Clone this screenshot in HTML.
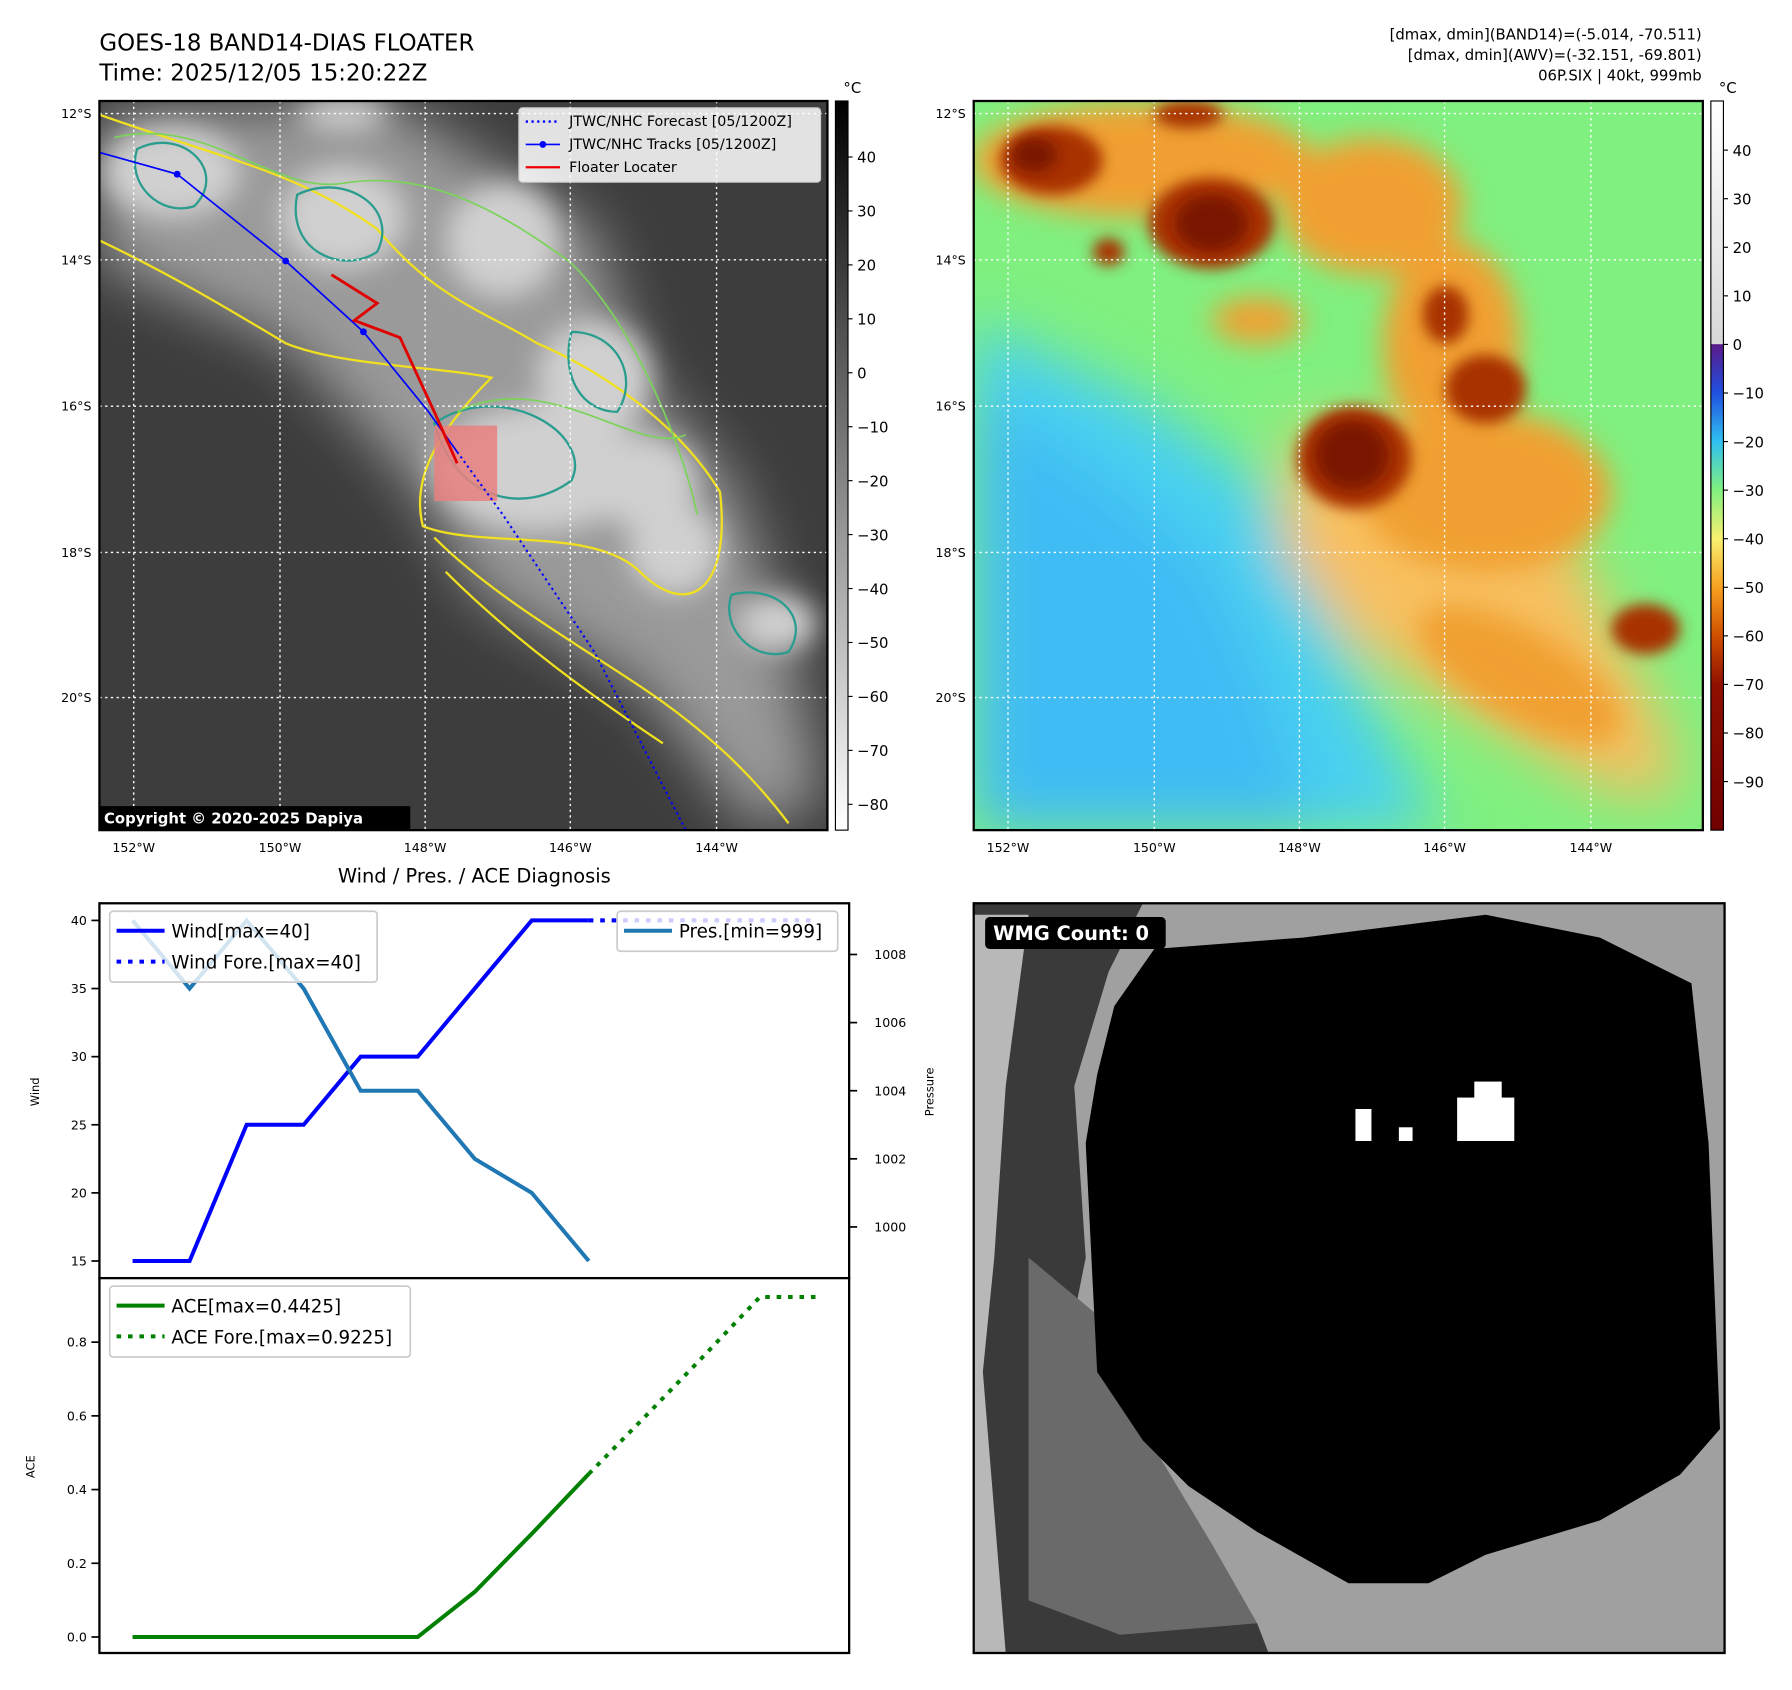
<!DOCTYPE html>
<html><head><meta charset="utf-8"><style>
html,body{margin:0;padding:0;background:#fff;}
svg{display:block;font-family:"DejaVu Sans","Liberation Sans",sans-serif;}
</style></head><body>
<svg id="fig" xmlns="http://www.w3.org/2000/svg" width="1792" height="1690" viewBox="0 0 1568 1478">
<defs>
<filter id="b6" x="-20%" y="-20%" width="140%" height="140%"><feGaussianBlur stdDeviation="6"/></filter>
<filter id="b12" x="-30%" y="-30%" width="160%" height="160%"><feGaussianBlur stdDeviation="12"/></filter>
<filter id="b25" x="-30%" y="-30%" width="160%" height="160%"><feGaussianBlur stdDeviation="25"/></filter>
<clipPath id="c1"><rect x="87" y="88" width="637" height="638"/></clipPath>
<clipPath id="c2"><rect x="852" y="88" width="638" height="638"/></clipPath>
<clipPath id="c3"><rect x="852" y="790" width="657" height="656"/></clipPath>
<linearGradient id="g1" x1="0" y1="0" x2="0" y2="1"><stop offset="0" stop-color="#000"/><stop offset="1" stop-color="#fff"/></linearGradient>
<linearGradient id="g2" x1="0" y1="0" x2="0" y2="1">
<stop offset="0" stop-color="#fff"/><stop offset="0.333" stop-color="#d8d8d8"/>
<stop offset="0.334" stop-color="#5a1a8a"/><stop offset="0.40" stop-color="#2050e0"/>
<stop offset="0.467" stop-color="#30c0f0"/><stop offset="0.533" stop-color="#80f080"/>
<stop offset="0.60" stop-color="#f8f070"/><stop offset="0.667" stop-color="#f8a020"/>
<stop offset="0.733" stop-color="#d05000"/><stop offset="0.80" stop-color="#901000"/>
<stop offset="1" stop-color="#700000"/></linearGradient>
</defs>

<text x="87" y="44" font-size="20">GOES-18 BAND14-DIAS FLOATER</text>
<text x="87" y="70" font-size="20">Time: 2025/12/05 15:20:22Z</text>
<g font-size="13" text-anchor="end">
<text x="1489" y="34">[dmax, dmin](BAND14)=(-5.014, -70.511)</text>
<text x="1489" y="52">[dmax, dmin](AWV)=(-32.151, -69.801)</text>
<text x="1489" y="70">06P.SIX | 40kt, 999mb</text>
</g>

<!-- LEFT MAP -->
<g clip-path="url(#c1)">
<rect x="87" y="88" width="637" height="638" fill="#3d3d3d"/>
<g filter="url(#b25)" fill="#9a9a9a">
<polygon points="87,100 340,88 520,200 560,330 640,420 690,560 720,700 660,726 560,600 420,520 360,420 250,300 87,230"/>
</g>
<g filter="url(#b12)" fill="#d0d0d0">
<ellipse cx="150" cy="150" rx="60" ry="40"/><ellipse cx="300" cy="190" rx="55" ry="45"/>
<ellipse cx="440" cy="210" rx="50" ry="50"/><ellipse cx="520" cy="330" rx="50" ry="50"/>
<ellipse cx="470" cy="410" rx="90" ry="55"/><ellipse cx="560" cy="420" rx="50" ry="40"/>
<ellipse cx="590" cy="480" rx="40" ry="40"/><ellipse cx="680" cy="545" rx="35" ry="25"/>
<ellipse cx="300" cy="100" rx="40" ry="15"/>
</g>
<g fill="none" stroke="#f0e020" stroke-width="2">
<path d="M87,100 C200,140 260,150 330,200 C380,260 420,270 470,300 C540,330 600,380 630,430 C640,520 600,540 560,500 C520,460 420,480 370,460 C360,420 380,380 430,330 C380,320 300,320 250,300 C200,270 150,240 87,210"/>
<path d="M380,470 C430,520 500,560 560,600 C620,640 660,680 690,720"/>
<path d="M390,500 C450,560 520,610 580,650"/>
</g>
<g fill="none" stroke="#2a9d8f" stroke-width="2">
<path d="M120,130 C160,110 200,150 170,180 C140,190 110,160 120,130Z"/>
<path d="M260,170 C300,150 350,180 330,220 C300,240 250,220 260,170Z"/>
<path d="M380,370 C440,330 520,380 500,420 C460,450 400,440 380,370Z"/>
<path d="M500,290 C540,290 560,330 540,360 C510,360 490,330 500,290Z"/>
<path d="M640,520 C680,510 710,540 690,570 C660,580 630,550 640,520Z"/>
</g>
<g fill="none" stroke="#7bd35a" stroke-width="1.5">
<path d="M100,120 C180,100 240,170 300,160 C360,150 420,170 500,230 C560,290 600,400 610,450"/>
<path d="M400,360 C480,320 560,400 600,380"/>
</g>
<rect x="380" y="372" width="55" height="66" fill="#e88080" opacity="0.85"/>
<g stroke="#fff" stroke-dasharray="2,3" stroke-width="1.2">
<line x1="117" y1="88" x2="117" y2="726"/><line x1="245" y1="88" x2="245" y2="726"/><line x1="372" y1="88" x2="372" y2="726"/><line x1="499" y1="88" x2="499" y2="726"/><line x1="627" y1="88" x2="627" y2="726"/>
<line x1="87" y1="99" x2="724" y2="99"/><line x1="87" y1="227" x2="724" y2="227"/><line x1="87" y1="355" x2="724" y2="355"/><line x1="87" y1="483" x2="724" y2="483"/><line x1="87" y1="610" x2="724" y2="610"/>
</g>
<polyline points="87,133 155,152 250,228 318,290 375,360 400,395" fill="none" stroke="#0000ff" stroke-width="1.5"/>
<circle cx="155" cy="152" r="3" fill="#0000ff"/><circle cx="250" cy="228" r="3" fill="#0000ff"/><circle cx="318" cy="290" r="3" fill="#0000ff"/>
<polyline points="400,395 440,450 520,570 600,726" fill="none" stroke="#0000ff" stroke-width="1.8" stroke-dasharray="2,3"/>
<polyline points="290,240 330,265 310,280 350,295 380,360 400,405" fill="none" stroke="#e00000" stroke-width="2.5"/>
<rect x="87" y="705" width="272" height="21" fill="#000"/>
<text x="91" y="720" font-size="13" font-weight="bold" fill="#fff">Copyright © 2020-2025 Dapiya</text>
<g>
<rect x="454" y="94" width="264" height="65" rx="3" fill="#fff" fill-opacity="0.85" stroke="#ccc"/>
<line x1="460" y1="106" x2="490" y2="106" stroke="#00f" stroke-width="2" stroke-dasharray="2,3"/>
<line x1="460" y1="126" x2="490" y2="126" stroke="#00f" stroke-width="1.5"/><circle cx="475" cy="126" r="3" fill="#00f"/>
<line x1="460" y1="146" x2="490" y2="146" stroke="#e00" stroke-width="2"/>
<g font-size="12.5"><text x="498" y="110">JTWC/NHC Forecast [05/1200Z]</text><text x="498" y="130">JTWC/NHC Tracks [05/1200Z]</text><text x="498" y="150">Floater Locater</text></g>
</g>
</g>
<rect x="87" y="88" width="637" height="638" fill="none" stroke="#000" stroke-width="2"/>
<g font-size="11" text-anchor="end">
<text x="80" y="103">12°S</text><text x="80" y="231">14°S</text><text x="80" y="359">16°S</text><text x="80" y="487">18°S</text><text x="80" y="614">20°S</text></g>
<g font-size="11" text-anchor="middle">
<text x="117" y="745">152°W</text><text x="245" y="745">150°W</text><text x="372" y="745">148°W</text><text x="499" y="745">146°W</text><text x="627" y="745">144°W</text></g>
<rect x="731" y="88" width="11" height="638" fill="url(#g1)" stroke="#000"/>
<text x="738" y="81" font-size="13">°C</text>
<g id="cb1" font-size="13"></g>

<!-- RIGHT MAP -->
<g clip-path="url(#c2)">
<rect x="852" y="88" width="638" height="638" fill="#80f080"/>
<g filter="url(#b25)">
<polygon points="852,280 1000,350 1100,420 1150,520 1200,620 1260,726 852,726" fill="#48d0f0"/>
<polygon points="852,340 960,410 1060,490 1110,600 1150,726 852,726" fill="#40bcf4"/>
<polygon points="1130,380 1250,360 1350,420 1400,520 1460,640 1470,700 1400,690 1300,630 1180,560 1120,480" fill="#f8c060"/>
</g>
<g filter="url(#b12)" fill="#f0a030">
<ellipse cx="1000" cy="140" rx="150" ry="50"/><ellipse cx="1200" cy="180" rx="80" ry="60"/>
<ellipse cx="1270" cy="300" rx="60" ry="90"/><ellipse cx="1300" cy="430" rx="110" ry="70"/>
<ellipse cx="1330" cy="590" rx="100" ry="40" transform="rotate(30 1330 590)"/><ellipse cx="1100" cy="280" rx="40" ry="20"/>
</g>
<g filter="url(#b6)" fill="#a83000">
<ellipse cx="920" cy="140" rx="45" ry="30"/><ellipse cx="1060" cy="195" rx="55" ry="40"/>
<ellipse cx="1185" cy="400" rx="50" ry="45"/><ellipse cx="1265" cy="275" rx="20" ry="25"/>
<ellipse cx="1300" cy="340" rx="35" ry="30"/><ellipse cx="1440" cy="550" rx="30" ry="22"/>
<ellipse cx="970" cy="220" rx="14" ry="12"/><ellipse cx="1040" cy="100" rx="30" ry="12"/>
</g>
<g filter="url(#b6)" fill="#7a1400">
<ellipse cx="1183" cy="398" rx="32" ry="30"/><ellipse cx="1060" cy="195" rx="32" ry="25"/><ellipse cx="905" cy="135" rx="20" ry="15"/>
</g>
<g stroke="#fff" stroke-dasharray="2,3" stroke-width="1.2">
<line x1="882" y1="88" x2="882" y2="726"/><line x1="1010" y1="88" x2="1010" y2="726"/><line x1="1137" y1="88" x2="1137" y2="726"/><line x1="1264" y1="88" x2="1264" y2="726"/><line x1="1392" y1="88" x2="1392" y2="726"/>
<line x1="852" y1="99" x2="1490" y2="99"/><line x1="852" y1="227" x2="1490" y2="227"/><line x1="852" y1="355" x2="1490" y2="355"/><line x1="852" y1="483" x2="1490" y2="483"/><line x1="852" y1="610" x2="1490" y2="610"/>
</g>
</g>
<rect x="852" y="88" width="638" height="638" fill="none" stroke="#000" stroke-width="2"/>
<g font-size="11" text-anchor="end">
<text x="845" y="103">12°S</text><text x="845" y="231">14°S</text><text x="845" y="359">16°S</text><text x="845" y="487">18°S</text><text x="845" y="614">20°S</text></g>
<g font-size="11" text-anchor="middle">
<text x="882" y="745">152°W</text><text x="1010" y="745">150°W</text><text x="1137" y="745">148°W</text><text x="1264" y="745">146°W</text><text x="1392" y="745">144°W</text></g>
<rect x="1497" y="88" width="11" height="638" fill="url(#g2)" stroke="#000"/>
<text x="1504" y="81" font-size="13">°C</text>
<g id="cb2" font-size="13"></g>

<!-- WMG panel -->
<g clip-path="url(#c3)">
<rect x="852" y="790" width="657" height="656" fill="#a0a0a0"/>
<polygon points="852,790 1000,790 970,850 940,950 950,1100 930,1200 1000,1300 1060,1380 1100,1420 1110,1446 852,1446" fill="#3a3a3a"/>
<polygon points="852,800 900,800 880,950 870,1100 860,1200 880,1446 852,1446" fill="#b8b8b8"/>
<polygon points="900,1100 960,1150 1000,1250 1060,1350 1100,1420 980,1430 900,1400" fill="#6a6a6a"/>
<path d="M1010,830 L1140,820 L1300,800 L1400,820 L1480,860 L1495,1000 L1505,1250 L1470,1290 L1400,1330 L1300,1360 L1250,1385 L1180,1385 L1100,1340 L1040,1300 L1000,1260 L960,1200 L955,1100 L950,1000 L960,940 L975,880 Z" fill="#000"/>
<rect x="1275" y="960" width="50" height="38" fill="#fff"/><rect x="1290" y="946" width="24" height="16" fill="#fff"/>
<rect x="1186" y="970" width="14" height="28" fill="#fff"/><rect x="1224" y="986" width="12" height="12" fill="#fff"/>
<rect x="862" y="802" width="158" height="28" rx="4" fill="#000"/>
<text x="869" y="822" font-size="17" font-weight="bold" fill="#fff">WMG Count: 0</text>
</g>
<rect x="852" y="790" width="657" height="656" fill="none" stroke="#000" stroke-width="2"/>

<!-- Diagnosis chart -->
<text x="415" y="772" font-size="17" text-anchor="middle">Wind / Pres. / ACE Diagnosis</text>
<g id="chart"></g>
</svg>
<script>
const NS="http://www.w3.org/2000/svg";
const windVals=[15,15,25,25,30,30,35,40,40];
const windFore=[40,40,40,40,40];
const presVals=[1009,1007,1009,1007,1004,1004,1002,1001,999];
const presFore=[1009,1009,1009,1009,1009];
const aceVals=[0,0,0,0,0,0,0.1225,0.28,0.4425];
const aceFore=[0.4425,0.6,0.76,0.9225,0.9225];
const windTicks=[15,20,25,30,35,40];
const presTicks=[1000,1002,1004,1006,1008];
const aceTicks=[0,0.2,0.4,0.6,0.8];
const cb1Ticks=[40,30,20,10,0,-10,-20,-30,-40,-50,-60,-70,-80];
const cb2Ticks=[40,30,20,10,0,-10,-20,-30,-40,-50,-60,-70,-80,-90];

const xS=i=>116+i*49.9;
const yW=v=>1103-(v-15)*(1103-805)/25;
const yP=v=>1103-(v-999)*(1103-805)/10;
const yA=v=>1432-v*(1432-1174)/0.8;
const yCb1=v=>137-(v-40)*4.72;
const yCb2=v=>301-v*4.25;

function mk(tag,attrs,parent){const e=document.createElementNS(NS,tag);for(const k in attrs)e.setAttribute(k,attrs[k]);parent.appendChild(e);return e;}
const chart=document.getElementById('chart');
const f1=mk('rect',{x:87,y:790,width:656,height:328,fill:'#fff',stroke:'#000','stroke-width':2},chart);


const f2=mk('rect',{x:87,y:1118,width:656,height:328,fill:'#fff',stroke:'#000','stroke-width':2},chart);


function line(vals,start,yf,attrs,name){
  const pts=vals.map((v,i)=>xS(start+i)+','+yf(v)).join(' ');
  const p=mk('polyline',Object.assign({points:pts,fill:'none'},attrs),chart);
  
  
}
line(presFore,8,yP,{stroke:'#c8d8f8','stroke-width':4,'stroke-dasharray':'4,6'},'pressure-forecast-line');
line(windFore,8,yW,{stroke:'#0000ff','stroke-width':3.5,'stroke-dasharray':'4,6'},'wind-forecast-line');
line(windVals,0,yW,{stroke:'#0000ff','stroke-width':3.5},'wind-line');
line(presVals,0,yP,{stroke:'#1f77b4','stroke-width':3.5},'pressure-line');
line(aceFore,8,yA,{stroke:'#008000','stroke-width':3.5,'stroke-dasharray':'4,6'},'ace-forecast-line');
line(aceVals,0,yA,{stroke:'#008000','stroke-width':3.5},'ace-line');
function tick(x1,x2,y,label,tx,anchor,name){
  mk('line',{x1:x1,x2:x2,y1:y,y2:y,stroke:'#000','stroke-width':1.5},chart);
  const t=mk('text',{x:tx,y:y+4,'font-size':11,'text-anchor':anchor},chart);
  t.textContent=label;
  
  
}
windTicks.forEach(v=>tick(80,87,yW(v),v,76,'end','wind-tick'));
presTicks.forEach(v=>tick(743,750,yP(v),v,765,'start','pressure-tick'));
aceTicks.forEach(v=>tick(80,87,yA(v),v.toFixed(1),76,'end','ace-tick'));
function rot(x,y,s,name){const t=mk('text',{x:x,y:y,'font-size':10,'text-anchor':'middle',transform:`rotate(-90 ${x} ${y})`},chart);t.textContent=s;}
rot(34,955,'Wind','wind-axis-title');rot(817,955,'Pressure','pressure-axis-title');rot(30,1283,'ACE','ace-axis-title');
function legend(x,y,w,items,name){
  const g=mk('g',{},chart);
  
  
  mk('rect',{x:x,y:y,width:w,height:items.length*27+8,rx:3,fill:'#fff','fill-opacity':0.8,stroke:'#ccc','stroke-width':1.5},g);
  items.forEach((it,i)=>{const yy=y+17+i*27;
    mk('line',{x1:x+6,x2:x+48,y1:yy,y2:yy,stroke:it[1],'stroke-width':3.5,'stroke-dasharray':it[2]?'4,6':'none'},g);
    const t=mk('text',{x:x+54,y:yy+6,'font-size':16},g);t.textContent=it[0];});
}
legend(96,797,234,[['Wind[max=40]','#0000ff',0],['Wind Fore.[max=40]','#0000ff',1]],'wind-legend');
legend(540,797,193,[['Pres.[min=999]','#1f77b4',0]],'pressure-legend');
legend(96,1125,263,[['ACE[max=0.4425]','#008000',0],['ACE Fore.[max=0.9225]','#008000',1]],'ace-legend');
function cbt(id,ticks,yf,x){const g=document.getElementById(id);ticks.forEach(v=>{const y=yf(v);
  mk('line',{x1:x,x2:x+4,y1:y,y2:y,stroke:'#000'},g);
  const t=mk('text',{x:x+8,y:y+5},g);t.textContent=v<0?'−'+(-v):v;
  
  });}
cbt('cb1',cb1Ticks,yCb1,742);
cbt('cb2',cb2Ticks,yCb2,1508);
</script>
</body></html>
